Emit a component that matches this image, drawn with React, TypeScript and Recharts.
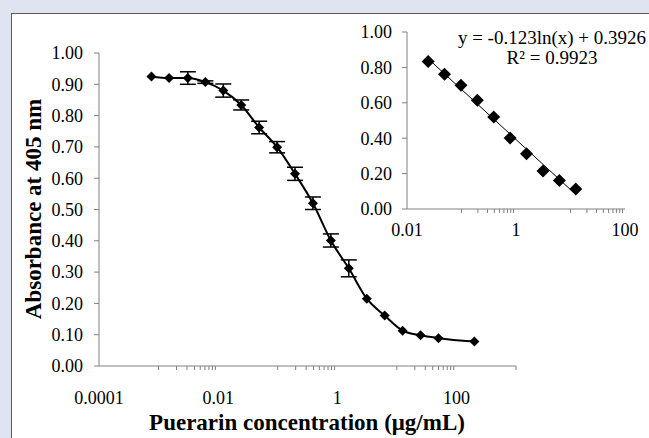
import React from 'react';
import {
  ComposedChart, Line, XAxis, YAxis, ErrorBar, ReferenceLine,
} from 'recharts';

// concentration (µg/mL), two-fold dilution series
const concentrations = [0.00076, 0.0015, 0.0031, 0.0061, 0.0122, 0.0244, 0.0488, 0.0977, 0.195, 0.39, 0.78, 1.56, 3.13, 6.25, 12.5, 25, 50, 200];
const absorbance = [0.925, 0.92, 0.92, 0.907, 0.88, 0.834, 0.762, 0.699, 0.614, 0.52, 0.401, 0.312, 0.215, 0.161, 0.113, 0.098, 0.089, 0.078];
const errors = [0, 0, 0.02, 0.004, 0.021, 0.016, 0.02, 0.018, 0.021, 0.02, 0.021, 0.027, 0, 0, 0, 0, 0, 0];

// linear range shown in the inset (indices into the arrays above)
const insetStart = 5;
const insetEnd = 15;

// trendline end points: y = -0.123ln(x) + 0.3926
const trendConc = [0.0244, 12.5];
const trendAbs = [0.849, 0.082];

const mainYTicks = [0, 0.1, 0.2, 0.3, 0.4, 0.5, 0.6, 0.7, 0.8, 0.9, 1.0];
const mainXLabels = [0.0001, 0.01, 1, 100];
const mainXMinor = [0.001, 0.002, 0.003, 0.004, 0.005, 0.006, 0.007, 0.008, 0.009,
  0.1, 0.2, 0.3, 0.4, 0.5, 0.6, 0.7, 0.8, 0.9,
  10, 20, 30, 40, 50, 60, 70, 80, 90, 1000];

const insetYTicks = [0, 0.2, 0.4, 0.6, 0.8, 1.0];
const insetXLabels = [0.01, 1, 100];
const insetXMinor = [0.1, 0.2, 0.3, 0.4, 0.5, 0.6, 0.7, 0.8, 0.9,
  10, 20, 30, 40, 50, 60, 70, 80, 90];

const FONT = '"Liberation Serif", "Times New Roman", serif';
const AXIS = '#808080';
const TICK_FS = 18;

const mainData = concentrations.map((c, i) => ({ c, a: absorbance[i], err: errors[i] }));
const insetData = mainData.slice(insetStart, insetEnd).map(d => ({ c: d.c, a: d.a }));

const makeDiamond = (size: number) => (props: any) => {
  const { cx, cy, index } = props;
  if (cx == null || cy == null) return <g key={index} />;
  const h = size / 2;
  return (
    <polygon
      key={index}
      points={`${cx},${cy - h} ${cx + h},${cy} ${cx},${cy + h} ${cx - h},${cy}`}
      fill="#000"
    />
  );
};

// minor ticks get a short mark, labelled ticks only get text
const makeXTick = (labels: number[], labelGap: number) => (props: any) => {
  const { x, y, payload } = props;
  const v = payload.value;
  const isLabel = labels.some(l => Math.abs(l - v) / l < 1e-6);
  return (
    <g>
      {!isLabel && <line x1={x} y1={y} x2={x} y2={y + 4} stroke={AXIS} strokeWidth={1} />}
      {isLabel && (
        <text x={x} y={y + labelGap} dy="0.71em" textAnchor="middle"
          fontFamily={FONT} fontSize={TICK_FS} fill="#000">
          {String(v)}
        </text>
      )}
    </g>
  );
};

const MainXTick = makeXTick(mainXLabels, 25);
const InsetXTick = makeXTick(insetXLabels, 14);

export default function App() {
  return (
    <div style={{
      position: 'absolute', left: 0, top: 0, width: 649, height: 438,
      background: '#e0e4f1', overflow: 'hidden', fontFamily: FONT,
    }}>
      <div style={{
        position: 'absolute', left: 11, top: 13, width: 700, height: 500,
        background: '#fff', border: '1px solid #5a5a5a',
      }} />

      <div style={{ position: 'absolute', left: 0, top: 0 }}>
        <ComposedChart width={649} height={438} data={mainData}
          margin={{ top: 53, right: 133, bottom: 32, left: 39 }}>
          <XAxis dataKey="c" type="number" scale="log" domain={[0.0001, 1000]}
            allowDataOverflow ticks={[...mainXLabels, ...mainXMinor]} interval={0}
            tickSize={0} tickMargin={0} tickLine={false} tick={MainXTick}
            stroke={AXIS} height={40} />
          <YAxis type="number" domain={[0, 1]} ticks={mainYTicks} interval={0}
            tickFormatter={(v: number) => v.toFixed(2)} width={60}
            tickSize={5} tickMargin={11} stroke={AXIS}
            tick={{ fill: '#000', fontFamily: FONT, fontSize: TICK_FS }} />
          <Line dataKey="a" type="monotone" stroke="#000" strokeWidth={2}
            dot={makeDiamond(10)} activeDot={false} isAnimationActive={false}>
            <ErrorBar dataKey="err" width={8} stroke="#000" strokeWidth={1.5} direction="y" />
          </Line>
        </ComposedChart>
      </div>

      <div style={{ position: 'absolute', left: 0, top: 0 }}>
        <ComposedChart width={649} height={438} data={insetData}
          margin={{ top: 32, right: 24, bottom: 199, left: 347 }}>
          <XAxis dataKey="c" type="number" scale="log" domain={[0.01, 100]}
            allowDataOverflow ticks={[...insetXLabels, ...insetXMinor]} interval={0}
            tickSize={0} tickMargin={0} tickLine={false} tick={InsetXTick}
            stroke={AXIS} height={30} />
          <YAxis type="number" domain={[0, 1]} ticks={insetYTicks} interval={0}
            tickFormatter={(v: number) => v.toFixed(2)} width={60}
            tickSize={5} tickMargin={10} stroke={AXIS}
            tick={{ fill: '#000', fontFamily: FONT, fontSize: TICK_FS }} />
          <ReferenceLine
            segment={[{ x: trendConc[0], y: trendAbs[0] }, { x: trendConc[1], y: trendAbs[1] }]}
            stroke="#000" strokeWidth={1} ifOverflow="extendDomain" />
          <Line dataKey="a" stroke="none" dot={makeDiamond(13)} activeDot={false}
            isAnimationActive={false} />
        </ComposedChart>
      </div>

      <div style={{
        position: 'absolute', left: 552, top: 48, transform: 'translate(-50%, -50%)',
        whiteSpace: 'nowrap', textAlign: 'center',
        fontSize: 19, lineHeight: '20px', color: '#000', fontFamily: FONT,
      }}>
        y = -0.123ln(x) + 0.3926<br />R² = 0.9923
      </div>

      <div style={{
        position: 'absolute', left: 33, top: 209, transform: 'translate(-50%, -50%) rotate(-90deg)',
        whiteSpace: 'nowrap', fontWeight: 'bold', fontSize: 23, lineHeight: 1,
        color: '#000', fontFamily: FONT,
      }}>
        Absorbance at 405 nm
      </div>

      <div style={{
        position: 'absolute', left: 307, top: 422, transform: 'translate(-50%, -50%)',
        whiteSpace: 'nowrap', fontWeight: 'bold', fontSize: 23, lineHeight: 1,
        color: '#000', fontFamily: FONT,
      }}>
        Puerarin concentration (μg/mL)
      </div>
    </div>
  );
}
